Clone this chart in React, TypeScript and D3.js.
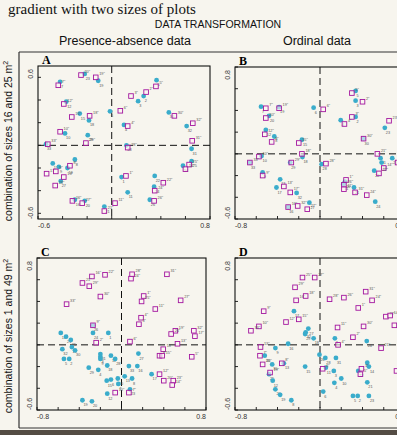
import React from 'react';
import * as d3 from 'd3';

type Pt = [string, number, number];

// ordination scores: [label, axis 1, axis 2]
const dotsA: Pt[] = [
  ['7', -0.42, 0.56], ['23', -0.22, 0.63], ['19', -0.11, 0.57], ['12', -0.37, 0.385],
  ['15', -0.26, 0.28], ['18', -0.185, 0.22], ['6', -0.014, 0.3], ['10', -0.38, 0.105],
  ['29', -0.195, 0.09], ['33', -0.535, 0.01], ['4', 0.1, 0.18], ['3', 0.215, 0.39],
  ['2', 0.26, 0.435], ['5', 0.365, 0.575], ['30', 0.465, 0.29], ['32', 0.61, 0.17],
  ['28', 0.12, 0.0], ['31', 0.65, -0.03], ['25', 0.65, -0.14], ['14', 0.58, -0.18],
  ['17', -0.48, -0.16], ['8', -0.3, -0.125], ['9', -0.43, -0.19], ['13', -0.36, -0.2],
  ['27', -0.415, -0.315], ['1', 0.08, -0.28], ['11', 0.13, -0.415], ['22', 0.35, -0.27],
  ['24', 0.345, -0.365], ['26', 0.31, -0.48], ['16', -0.3, -0.48], ['20', -0.22, -0.49],
  ['21', -0.06, -0.54],
];
const squaresA: Pt[] = [
  ['7"', -0.435, 0.53], ['20"', -0.25, 0.62], ['19"', -0.13, 0.6], ['12"', -0.39, 0.365],
  ['15"', -0.325, 0.25], ['18"', -0.18, 0.26], ['6"', 0.07, 0.305], ['10"', -0.42, 0.12],
  ['29"', -0.21, 0.02], ['33"', -0.52, 0.01], ['4"', 0.13, 0.17], ['3"', 0.157, 0.435],
  ['2"', 0.28, 0.47], ['5"', 0.36, 0.52], ['30"', 0.51, 0.26], ['32"', 0.66, 0.195],
  ['31"', 0.655, 0.04], ['28"', 0.13, -0.02], ['25"', 0.63, -0.17], ['14"', 0.6, -0.21],
  ['17"', -0.53, -0.25], ['9"', -0.455, -0.23], ['8"', -0.34, -0.18], ['13"', -0.39, -0.28],
  ['23"', -0.46, -0.355], ['1"', 0.116, -0.27], ['22"', 0.42, -0.33], ['24"', 0.35, -0.4],
  ['26"', 0.345, -0.49], ['16"', -0.32, -0.49], ['27"', -0.24, -0.51], ['11"', 0.027, -0.51],
  ['21"', -0.06, -0.58],
];

const dotsB: Pt[] = [
  ['7', -0.555, 0.435], ['19', -0.385, 0.43], ['20', -0.48, 0.35], ['12', -0.51, 0.22],
  ['8', -0.43, 0.16], ['6', -0.06, 0.425], ['15', -0.17, 0.13], ['10', -0.55, -0.02],
  ['33', -0.66, -0.08], ['18', -0.165, -0.03], ['29', -0.28, -0.08], ['28', 0.015, -0.095],
  ['9', -0.54, -0.17], ['13', -0.375, -0.235], ['17', -0.41, -0.31], ['32', -0.22, -0.36],
  ['27', -0.1, -0.45], ['16', -0.3, -0.49], ['5', 0.335, 0.58], ['3', 0.335, 0.49],
  ['4', 0.195, 0.31], ['2', 0.335, 0.34], ['23', 0.61, 0.24], ['30', 0.41, 0.14],
  ['31', 0.57, -0.04], ['25', 0.68, -0.04], ['14', 0.58, -0.08], ['22', 0.51, -0.155],
  ['26', 0.235, -0.255], ['11', 0.22, -0.28], ['21', 0.32, -0.31], ['24', 0.52, -0.44],
];
const squaresB: Pt[] = [
  ['7"', -0.51, 0.42], ['19"', -0.385, 0.42], ['20"', -0.51, 0.33], ['12"', -0.52, 0.18],
  ['8"', -0.455, 0.11], ['6"', 0.03, 0.41], ['15"', -0.2, 0.1], ['18"', -0.17, 0.0],
  ['10"', -0.575, -0.025], ['33"', -0.66, -0.08], ['29"', -0.27, -0.08], ['28"', 0.056, -0.09],
  ['9"', -0.54, -0.2], ['13"', -0.34, -0.3], ['17"', -0.28, -0.355], ['16"', -0.3, -0.49],
  ['32"', -0.21, -0.48], ['27"', -0.12, -0.51], ['5"', 0.3, 0.56], ['2"', 0.4, 0.48],
  ['3"', 0.3, 0.34], ['4"', 0.23, 0.275], ['23"', 0.65, 0.305], ['30"', 0.41, 0.14],
  ['21"', 0.54, 0.0], ['14"', 0.6, -0.13], ['22"', 0.555, -0.18], ['25"', 0.73, -0.08],
  ['1"', 0.245, -0.24], ['26"', 0.225, -0.285], ['11"', 0.225, -0.325], ['31"', 0.33, -0.355],
  ['24"', 0.44, -0.38],
];

const dotsC: Pt[] = [
  ['26', -0.27, 0.18], ['24', -0.27, 0.11], ['1', -0.125, 0.11], ['14', -0.575, 0.11],
  ['21', -0.525, 0.075], ['25', -0.48, 0.045], ['32', -0.56, -0.04], ['22', -0.47, -0.02],
  ['30', -0.44, -0.05], ['5', -0.545, -0.13], ['2', -0.495, -0.13], ['31', -0.2, -0.085],
  ['3', -0.2, -0.11], ['9', -0.2, -0.13], ['11', -0.1, -0.1], ['28', -0.06, -0.13],
  ['29', -0.31, -0.21], ['18', -0.135, -0.19], ['4', -0.22, -0.23], ['27', 0.16, -0.08],
  ['33', 0.07, -0.195], ['16', 0.15, -0.195], ['13', 0.03, -0.29], ['8', 0.1, -0.31],
  ['10', -0.035, -0.31], ['15', -0.14, -0.33], ['6', -0.1, -0.32], ['7', -0.03, -0.36],
  ['23', 0.08, -0.41], ['17', 0.285, -0.27], ['12', -0.135, -0.45], ['19', -0.37, -0.51],
  ['20', -0.28, -0.52],
];
const squaresC: Pt[] = [
  ['16"', -0.28, 0.63], ['22"', -0.156, 0.645], ['21"', -0.37, 0.57], ['29"', -0.305, 0.54],
  ['30"', -0.2, 0.445], ['33"', -0.52, 0.375], ['9"', -0.27, 0.18], ['2"', -0.24, 0.02],
  ['28"', 0.1, 0.65], ['24"', 0.09, 0.61], ['31"', 0.43, 0.65], ['1"', 0.21, 0.45],
  ['25"', 0.19, 0.4], ['27"', 0.56, 0.41], ['11"', 0.32, 0.33], ['4"', 0.185, 0.25],
  ['3"', 0.165, 0.19], ['6"', 0.08, 0.03], ['19"', 0.51, 0.13], ['26"', 0.47, 0.1],
  ['32"', 0.685, 0.13], ['17"', 0.695, 0.08], ['13"', 0.53, 0.01], ['18"', 0.395, -0.04],
  ['8"', 0.36, -0.1], ['15"', 0.385, -0.1], ['5"', 0.665, -0.11], ['12"', 0.36, -0.27],
  ['20"', 0.4, -0.33], ['23"', 0.49, -0.33], ['14"', 0.48, -0.37], ['10"', -0.06, -0.44],
  ['7"', 0.07, -0.44],
];

const dotsD: Pt[] = [
  ['17', -0.245, 0.31], ['27', -0.11, 0.15], ['32', -0.135, 0.115], ['29', -0.14, 0.1],
  ['18', -0.06, 0.06], ['16', -0.3, 0.01], ['9', -0.42, -0.03], ['33', -0.52, -0.1],
  ['30', -0.45, -0.18], ['13', -0.34, -0.17], ['25', -0.48, -0.27], ['12', -0.445, -0.33],
  ['20', -0.42, -0.41], ['19', -0.375, -0.46], ['8', -0.27, -0.51], ['15', -0.14, -0.2],
  ['26', -0.005, -0.09], ['28', 0.05, -0.12], ['1', 0.14, 0.06], ['31', 0.15, -0.12],
  ['11', 0.055, -0.21], ['3', 0.13, -0.24], ['10', 0.2, -0.31], ['4', 0.135, -0.35],
  ['6', 0.03, -0.43], ['24', 0.44, 0.035], ['7', 0.445, -0.165], ['14', 0.46, -0.2],
  ['22', 0.36, -0.24], ['21', 0.445, -0.345], ['5', 0.31, -0.47], ['2', 0.355, -0.47],
  ['23', 0.46, -0.47],
];
const squaresD: Pt[] = [
  ['25"', -0.165, 0.62], ['27"', -0.05, 0.62], ['29"', -0.235, 0.53], ['16"', -0.225, 0.41],
  ['18"', -0.135, 0.45], ['9"', -0.53, 0.31], ['12"', -0.32, 0.21], ['15"', -0.2, 0.235],
  ['10"', -0.575, 0.17], ['33"', -0.65, 0.13], ['13"', -0.56, -0.02], ['7"', -0.565, -0.1],
  ['20"', -0.54, -0.18], ['8"', -0.36, -0.17], ['19"', -0.47, -0.255], ['6"', 0.025, -0.22],
  ['28"', 0.09, 0.42], ['26"', 0.225, 0.435], ['11"', 0.165, 0.16], ['4"', 0.17, 0.0],
  ['2"', 0.31, 0.07], ['1"', 0.36, 0.34], ['31"', 0.43, 0.49], ['30"', 0.41, 0.17],
  ['24"', 0.49, 0.41], ['21"', 0.575, -0.03], ['22"', 0.62, 0.26], ['14"', 0.66, 0.27],
  ['23"', 0.7, 0.18], ['3"', 0.39, -0.22], ['5"', 0.38, -0.27], ['32"', 0.72, -0.24],
];

const ticksA = [-0.6, -0.4, -0.2, 0, 0.2, 0.4, 0.6, 0.8];
const ticksWide = [-0.8, -0.6, -0.4, -0.2, 0, 0.2, 0.4, 0.6, 0.8];
const ticksY = [-0.6, -0.4, -0.2, 0, 0.2, 0.4, 0.6, 0.8];

const SANS = '"Liberation Sans", Arial, sans-serif';
const SERIF = '"Liberation Serif", "Times New Roman", serif';
const CYAN = '#3aaccb';
const MAGENTA = '#a3169f';

interface PanelProps {
  letter: string;
  box: [number, number, number, number];
  xDomain: [number, number];
  yDomain: [number, number];
  xTicks: number[];
  yTicks: number[];
  xLabels: [string, string];
  yLabels: [string, string];
  dots: Pt[];
  squares: Pt[];
}

function Panel({ letter, box, xDomain, yDomain, xTicks, yTicks, xLabels, yLabels, dots, squares }: PanelProps) {
  const [x0, y0, x1, y1] = box;
  const x = d3.scaleLinear().domain(xDomain).range([x0, x1]);
  const y = d3.scaleLinear().domain(yDomain).range([y1, y0]);
  const yt = yTicks.filter((t) => t >= yDomain[0] - 1e-9 && t <= yDomain[1] + 1e-9);
  const xt = xTicks.filter((t) => t >= xDomain[0] - 1e-9 && t <= xDomain[1] + 1e-9);
  const s = 4.6;
  return (
    <g>
      <text x={x0 + 4} y={y0 - 2} fontFamily={SERIF} fontWeight="bold" fontSize={12}>{letter}</text>
      <rect x={x0} y={y0} width={x1 - x0} height={y1 - y0} fill="none" stroke="#111" strokeWidth={1.1} />
      {yt.map((t) => (
        <line key={'y' + t} x1={x0} x2={x0 + 3} y1={y(t)} y2={y(t)} stroke="#111" strokeWidth={0.9} />
      ))}
      {xt.map((t) => (
        <line key={'x' + t} x1={x(t)} x2={x(t)} y1={y1} y2={y1 - 3} stroke="#111" strokeWidth={0.9} />
      ))}
      <line x1={x(0)} x2={x(0)} y1={y0} y2={y1} stroke="#111" strokeWidth={1} strokeDasharray="7,4" />
      <line x1={x0} x2={x1} y1={y(0)} y2={y(0)} stroke="#111" strokeWidth={1} strokeDasharray="7,4" />
      <text fontFamily={SANS} fontSize={7} fill="#333" textAnchor="end"
        transform={`translate(${x0 - 5},${y0 + 3}) rotate(-90)`}>{yLabels[1]}</text>
      <text fontFamily={SANS} fontSize={7} fill="#333" textAnchor="start"
        transform={`translate(${x0 - 5},${y1}) rotate(-90)`}>{yLabels[0]}</text>
      <text x={x0} y={y1 + 9} fontFamily={SANS} fontSize={7} fill="#333">{xLabels[0]}</text>
      <text x={x1} y={y1 + 9} fontFamily={SANS} fontSize={7} fill="#333" textAnchor="end">{xLabels[1]}</text>
      {dots.map(([lab, a, b], i) => (
        <g key={'d' + i}>
          <circle cx={x(a)} cy={y(b)} r={2.4} fill={CYAN} />
          <text x={x(a) + 1} y={y(b) + 6} fontFamily={SANS} fontSize={3.8} fill="#555">{lab}</text>
        </g>
      ))}
      {squares.map(([lab, a, b], i) => (
        <g key={'s' + i}>
          <rect x={x(a) - s / 2} y={y(b) - s / 2} width={s} height={s} fill="#fbf9f4" fillOpacity={0.6}
            stroke={MAGENTA} strokeWidth={0.9} />
          <text x={x(a) + 3.5} y={y(b) - 2} fontFamily={SANS} fontSize={3.8} fill="#555">{lab}</text>
        </g>
      ))}
    </g>
  );
}

export default function App() {
  return (
    <div style={{ position: 'absolute', left: 0, top: 0 }}>
      <svg width={397} height={435} style={{ display: 'block', background: '#f7f5ee' }}>
        <text x={8} y={13.5} fontFamily={SERIF} fontSize={15} fill="#111">gradient with two sizes of plots</text>
        <text x={218} y={28} fontFamily={SANS} fontSize={10.5} fill="#111" textAnchor="middle">DATA TRANSFORMATION</text>
        <text x={125} y={45} fontFamily={SANS} fontSize={12.5} fill="#111" textAnchor="middle">Presence-absence data</text>
        <text x={317} y={45} fontFamily={SANS} fontSize={12.5} fill="#111" textAnchor="middle">Ordinal data</text>
        <line x1={19} x2={397} y1={52} y2={52} stroke="#333" strokeWidth={1.2} />
        <line x1={19} x2={19} y1={52} y2={428} stroke="#333" strokeWidth={1.2} />
        <line x1={19} x2={397} y1={428} y2={428} stroke="#333" strokeWidth={1} />
        <rect x={0} y={430} width={397} height={5} fill="#544c44" />
        <text fontFamily={SANS} fontSize={10.5} fill="#111" textAnchor="middle"
          transform="translate(12,141) rotate(-90)">
          combination of sizes 16 and 25 m<tspan dy={-4} fontSize={7}>2</tspan>
        </text>
        <text fontFamily={SANS} fontSize={10.5} fill="#111" textAnchor="middle"
          transform="translate(12,336) rotate(-90)">
          combination of sizes 1 and 49 m<tspan dy={-4} fontSize={7}>2</tspan>
        </text>
        <Panel letter="A" box={[38, 66, 210, 219]} xDomain={[-0.6, 0.8]} yDomain={[-0.65, 0.7]}
          xTicks={ticksA} yTicks={ticksY} xLabels={['-0.6', '0.8']} yLabels={['-0.6', '0.6']}
          dots={dotsA} squares={squaresA} />
        <Panel letter="B" box={[235, 67, 405, 219]} xDomain={[-0.8, 0.8]} yDomain={[-0.6, 0.8]}
          xTicks={ticksWide} yTicks={ticksY} xLabels={['-0.8', '0.8']} yLabels={['-0.6', '0.8']}
          dots={dotsB} squares={squaresB} />
        <Panel letter="C" box={[37, 258, 206, 410]} xDomain={[-0.8, 0.8]} yDomain={[-0.6, 0.8]}
          xTicks={ticksWide} yTicks={ticksY} xLabels={['-0.8', '0.8']} yLabels={['-0.6', '0.8']}
          dots={dotsC} squares={squaresC} />
        <Panel letter="D" box={[235, 258, 405, 410]} xDomain={[-0.8, 0.8]} yDomain={[-0.6, 0.8]}
          xTicks={ticksWide} yTicks={ticksY} xLabels={['-0.8', '0.8']} yLabels={['-0.6', '0.8']}
          dots={dotsD} squares={squaresD} />
      </svg>
    </div>
  );
}
